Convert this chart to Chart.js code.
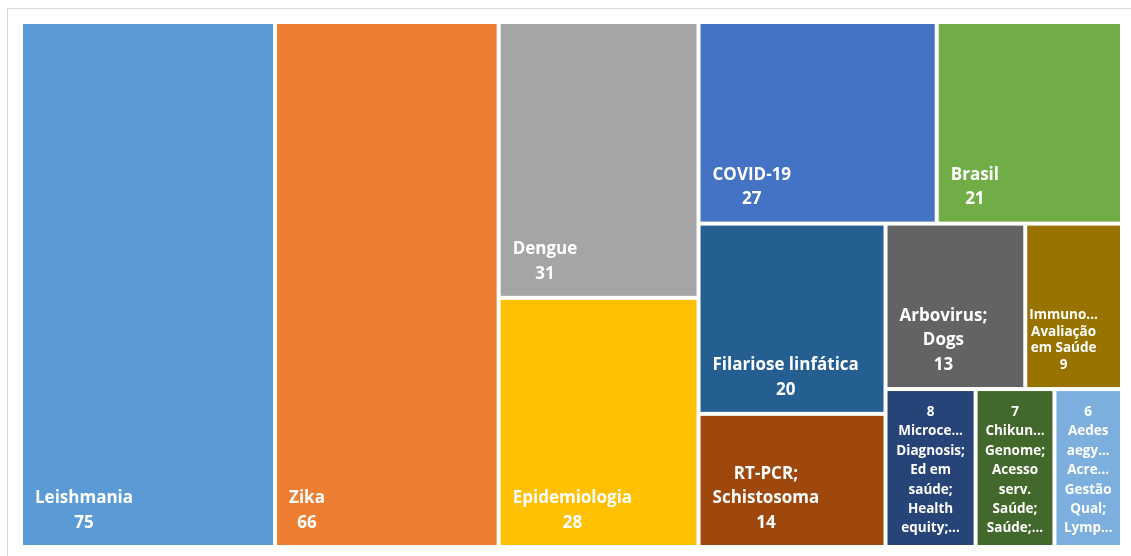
<!DOCTYPE html>
<html>
<head>
<meta charset="utf-8">
<script src="https://cdn.jsdelivr.net/npm/chart.js@4"></script>
<style>
  html, body { margin: 0; padding: 0; background: #fff; overflow: hidden; }
  #wrap { width: 1131px; height: 556px; }
</style>
</head>
<body>
<div id="wrap"><canvas id="treemap" width="1131" height="556"></canvas></div>
<script>
// keywords and how many papers each one has
const categories = [
    'Leishmania', 'Zika', 'Dengue', 'Epidemiologia', 'COVID-19', 'Brasil',
    'Filariose linfática', 'RT-PCR; Schistosoma', 'Arbovirus; Dogs',
    'Immuno...; Avaliação em Saúde',
    'Microce...; Diagnosis; Ed em saúde; Health equity;...',
    'Chikun...; Genome; Acesso serv. Saúde; Saúde;...',
    'Aedes aegy...; Acre...; Gestão Qual; Lymp...'
];
const counts = [75, 66, 31, 28, 27, 21, 20, 14, 13, 9, 8, 7, 6];

// text lines shown inside each cell
const labelLines = [
    ['Leishmania'], ['Zika'], ['Dengue'], ['Epidemiologia'], ['COVID-19'], ['Brasil'],
    ['Filariose linfática'], ['RT-PCR;', 'Schistosoma'], ['Arbovirus;', 'Dogs'],
    ['Immuno...', 'Avaliação', 'em Saúde'],
    ['Microce...', 'Diagnosis;', 'Ed em', 'saúde;', 'Health', 'equity;...'],
    ['Chikun...', 'Genome;', 'Acesso', 'serv.', 'Saúde;', 'Saúde;...'],
    ['Aedes', 'aegy...', 'Acre...', 'Gestão', 'Qual;', 'Lymp...']
];

const cellColors = [
    '#5B9BD5', '#ED7D31', '#A5A5A5', '#FFC000', '#4472C4', '#70AD47',
    '#255E91', '#9E480E', '#636363', '#997300', '#264478', '#43682B', '#7CAFDD'
];

// how the cells are split: 'h' = side by side, 'v' = stacked
const splitTree = ['h', 0, 1, ['v', 2, 3],
    ['v', ['h', 4, 5],
          ['h', ['v', 6, 7],
                ['v', ['h', 8, 9], ['h', 10, 11, 12]]]]];

function nodeValue(node) {
    if (typeof node === 'number') return counts[node];
    return node.slice(1).reduce((s, n) => s + nodeValue(n), 0);
}

// recursively slice a unit-space rectangle by value
function layoutCells(node, x0, y0, x1, y1, out) {
    if (typeof node === 'number') {
        out.push({ i: node, x0: x0, y0: y0, x1: x1, y1: y1 });
        return out;
    }
    const dir = node[0];
    const kids = node.slice(1);
    const total = nodeValue(node);
    let pos = dir === 'h' ? x0 : y0;
    kids.forEach(k => {
        const span = (nodeValue(k) / total) * (dir === 'h' ? x1 - x0 : y1 - y0);
        if (dir === 'h') layoutCells(k, pos, y0, pos + span, y1, out);
        else layoutCells(k, x0, pos, x1, pos + span, out);
        pos += span;
    });
    return out;
}

const cells = layoutCells(splitTree, 0, 0, 1, 1, []);

const treemapPlugin = {
    id: 'treemapCells',
    beforeDraw(chart) {
        const ctx = chart.ctx;
        ctx.save();
        ctx.fillStyle = '#fff';
        ctx.fillRect(0, 0, chart.width, chart.height);
        // outer frame
        ctx.strokeStyle = '#D9D9D9';
        ctx.lineWidth = 1;
        ctx.strokeRect(7.5, 8.5, 1300, 700);
        ctx.restore();
    },
    afterDatasetsDraw(chart) {
        const ctx = chart.ctx;
        const xs = chart.scales.x, ys = chart.scales.y;
        const gap = 2;
        ctx.save();
        cells.forEach(c => {
            const left = xs.getPixelForValue(c.x0) + gap;
            const right = xs.getPixelForValue(c.x1) - gap;
            const top = ys.getPixelForValue(c.y0) + gap;
            const bottom = ys.getPixelForValue(c.y1) - gap;
            const w = right - left;
            ctx.fillStyle = cellColors[c.i];
            ctx.fillRect(left, top, w, bottom - top);

            const lines = labelLines[c.i];
            const small = w < 110;
            const topMode = lines.length > 3;
            const fontSize = small ? 13.5 : 17;
            ctx.font = '700 ' + fontSize + 'px "Open Sans", "Liberation Sans", sans-serif';
            ctx.fillStyle = '#fff';
            ctx.textAlign = 'center';
            ctx.textBaseline = 'middle';
            if (topMode) {
                const rows = [String(counts[c.i])].concat(lines);
                const cx = (left + right) / 2;
                rows.forEach((t, k) => ctx.fillText(t, cx, top + 21 + k * 19.4));
            } else {
                const rows = lines.concat([String(counts[c.i])]);
                const lineH = small ? 16.5 : 24.5;
                const blockW = Math.max(...rows.map(t => ctx.measureText(t).width));
                const padX = small ? 2 : 12;
                let cx = left + padX + blockW / 2;
                if (blockW + padX * 2 > w) cx = (left + right) / 2;
                const lastY = bottom - 22;
                rows.forEach((t, k) => ctx.fillText(t, cx, lastY - (rows.length - 1 - k) * lineH));
            }
        });
        ctx.restore();
    }
};

new Chart(document.getElementById('treemap'), {
    type: 'scatter',
    data: { labels: categories, datasets: [{ data: [], pointRadius: 0 }] },
    options: {
        responsive: false,
        animation: false,
        layout: { padding: { left: 21, top: 22, right: 9, bottom: 9 } },
        plugins: { legend: { display: false }, tooltip: { enabled: false } },
        scales: {
            x: { type: 'linear', min: 0, max: 1, display: false },
            y: { type: 'linear', min: 0, max: 1, reverse: true, display: false }
        }
    },
    plugins: [treemapPlugin]
});
</script>
</body>
</html>
